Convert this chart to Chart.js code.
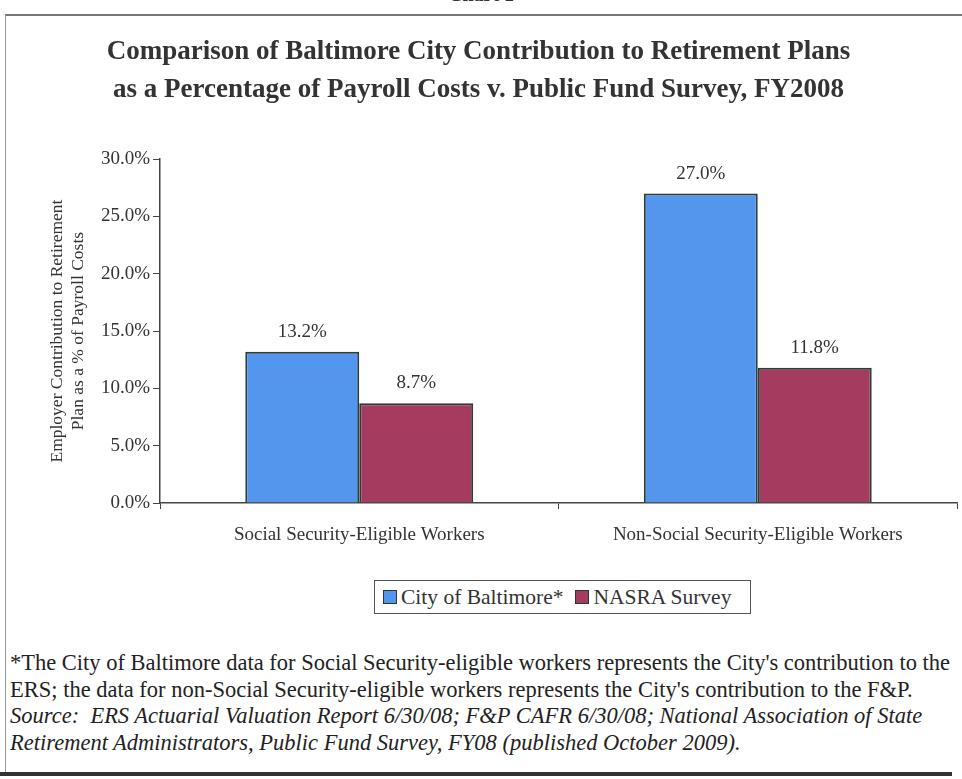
<!DOCTYPE html>
<html>
<head>
<meta charset="utf-8">
<script src="https://cdn.jsdelivr.net/npm/chart.js@4"></script>
<style>
  body { margin: 0; background: #fff; font-family: 'Liberation Serif', serif; color: #2a2a2a; }
  #page { position: relative; width: 962px; height: 779px; overflow: hidden; }
  #chartWrap { position: absolute; left: 0; top: 0; width: 962px; height: 563px; }
  .line { position: absolute; }
  #legend { position: absolute; left: 374px; top: 580px; width: 377px; height: 34px; border: 1px solid #555;
            display: flex; align-items: center; font-size: 21.5px; color: #333; padding-left: 8px; box-sizing: border-box; }
  #legend span.box { display: inline-block; width: 12px; height: 12px; border: 1.5px solid #333; margin-right: 4px; }
  #legend span.item { margin-right: 12px; display: inline-flex; align-items: center; }
  #notes { position: absolute; left: 10px; top: 650px; font-size: 22.5px; line-height: 26.5px; color: #222; white-space: nowrap; }
  #top { position: absolute; left: 0; width: 962px; top: -17px; text-align: center; font-weight: bold; font-size: 20px; color: #333; }
</style>
</head>
<body>
<div id="page">
  <div id="top">Chart 1</div>
  <div class="line" style="left:5px;top:14px;width:957px;height:2px;background:#777"></div>
  <div class="line" style="left:5px;top:15px;width:1px;height:758px;background:#999"></div>
  <div class="line" style="left:0;top:772px;width:952px;height:4px;background:#333"></div>
  <div id="chartWrap"><canvas id="chart"></canvas></div>
  <div id="legend"></div>
  <div id="notes">
    <div>*The City of Baltimore data for Social Security-eligible workers represents the City's contribution to the</div>
    <div>ERS; the data for non-Social Security-eligible workers represents the City's contribution to the F&amp;P.</div>
    <div><i>Source:&nbsp; ERS Actuarial Valuation Report 6/30/08; F&amp;P CAFR 6/30/08; National Association of State</i></div>
    <div><i>Retirement Administrators, Public Fund Survey, FY08 (published October 2009).</i></div>
  </div>
</div>
<script>
const categories = ['Social Security-Eligible Workers', 'Non-Social Security-Eligible Workers'];
const seriesNames = ['City of Baltimore*', 'NASRA Survey'];
const baltimore = [13.2, 27.0];
const nasra = [8.7, 11.8];
const seriesColors = ['rgb(82, 150, 238)', 'rgb(164, 60, 96)'];
const yTicks = [0, 5, 10, 15, 20, 25, 30];

const serif = 'Liberation Serif';

const valueLabels = {
  id: 'valueLabels',
  afterDatasetsDraw(chart) {
    const ctx = chart.ctx;
    ctx.save();
    ctx.font = '19px ' + serif;
    ctx.fillStyle = '#333';
    ctx.textAlign = 'center';
    ctx.textBaseline = 'middle';
    chart.data.datasets.forEach((ds, i) => {
      chart.getDatasetMeta(i).data.forEach((bar, j) => {
        ctx.fillText(ds.data[j].toFixed(1) + '%', bar.x, bar.y - 20);
      });
    });
    ctx.restore();
  }
};

const chart = new Chart(document.getElementById('chart'), {
  type: 'bar',
  data: {
    labels: categories,
    datasets: [
      { label: seriesNames[0], data: baltimore, backgroundColor: seriesColors[0], borderColor: '#2e3b3b', borderWidth: 2 },
      { label: seriesNames[1], data: nasra, backgroundColor: seriesColors[1], borderColor: '#2e3b3b', borderWidth: 2 }
    ]
  },
  options: {
    responsive: true,
    maintainAspectRatio: false,
    animation: false,
    layout: { padding: { right: 5 } },
    datasets: { bar: { categoryPercentage: 0.572, barPercentage: 1.0 } },
    plugins: {
      legend: { display: false },
      tooltip: { enabled: false },
      title: {
        display: true,
        text: ['Comparison of Baltimore City Contribution to Retirement Plans',
               'as a Percentage of Payroll Costs v. Public Fund Survey, FY2008'],
        color: '#333',
        font: { family: serif, size: 27, weight: 'bold', lineHeight: 1.41 },
        padding: { top: 33, bottom: 50 }
      }
    },
    scales: {
      x: {
        afterFit(scale) { scale.height = 60; },
        grid: { drawOnChartArea: false, tickLength: 6, color: '#444' },
        border: { color: '#444', width: 1.5 },
        ticks: { color: '#333', padding: 15, font: { family: serif, size: 19 } }
      },
      y: {
        min: 0,
        max: 30,
        afterFit(scale) { scale.width = 160; },
        afterBuildTicks(scale) { scale.ticks = yTicks.map(v => ({ value: v })); },
        grid: { drawOnChartArea: false, tickLength: 7, color: '#444' },
        border: { color: '#444', width: 1.5 },
        ticks: {
          color: '#333', padding: 3,
          font: { family: serif, size: 19 },
          callback: v => v.toFixed(1) + '%'
        },
        title: {
          display: true,
          text: ['Employer Contribution to Retirement', 'Plan as a % of Payroll Costs'],
          color: '#333',
          font: { family: serif, size: 17.5, lineHeight: 1.2 },
          padding: { top: 47 }
        }
      }
    }
  },
  plugins: [valueLabels]
});

const legend = document.getElementById('legend');
chart.data.datasets.forEach(ds => {
  const item = document.createElement('span');
  item.className = 'item';
  const box = document.createElement('span');
  box.className = 'box';
  box.style.background = ds.backgroundColor;
  item.appendChild(box);
  item.appendChild(document.createTextNode(ds.label));
  legend.appendChild(item);
});
</script>
</body>
</html>
